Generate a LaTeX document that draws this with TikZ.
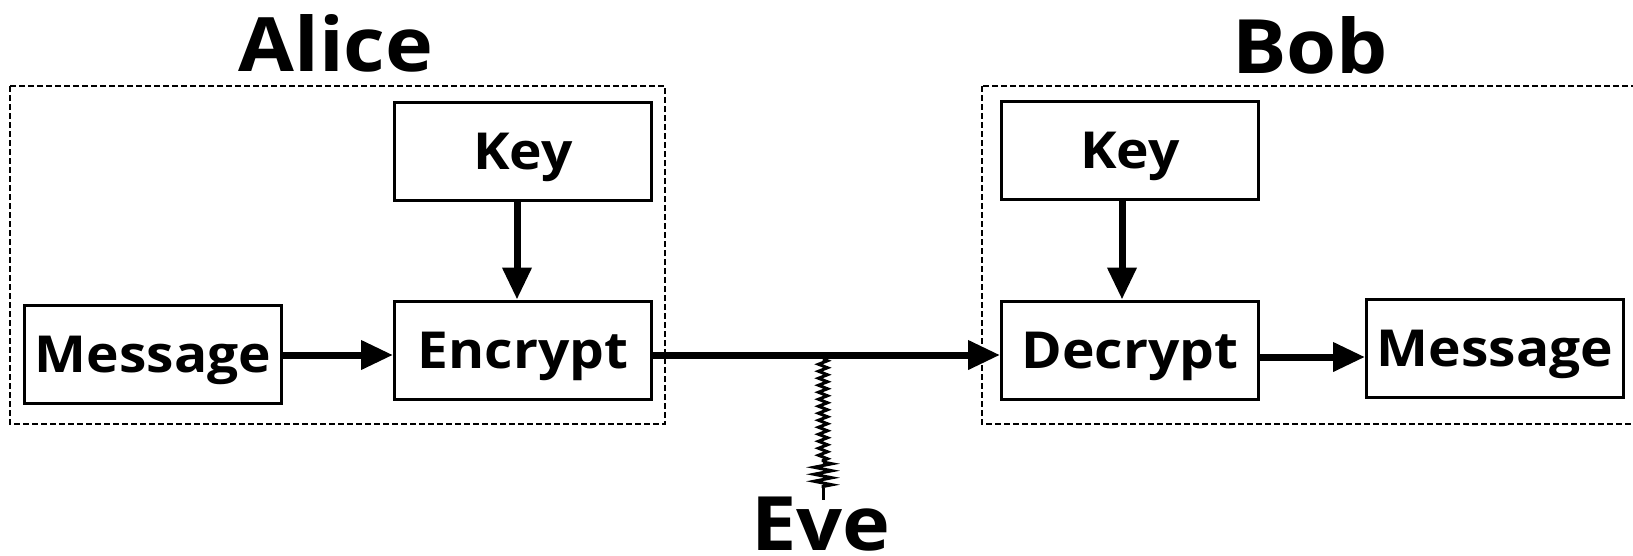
\documentclass[tikz,border=0pt]{standalone}
\usepackage{fontspec}
\setmainfont{Open Sans}
\newfontfamily\diagfont[FakeStretch=1.08]{Open Sans}
\usetikzlibrary{arrows.meta,decorations.pathmorphing}
\begin{document}
\begin{tikzpicture}[x=1pt,y=-1pt,
  box/.style={draw, line width=3pt, minimum width=257pt, minimum height=98pt, inner sep=0pt,
    text height=36pt, text depth=0pt,
    font=\diagfont\fontsize{51}{60}\selectfont\bfseries},
  group/.style={draw, line width=2pt, dash pattern=on 6pt off 3pt},
  title/.style={font=\diagfont\fontsize{75}{80}\selectfont\bfseries, anchor=base, inner sep=0pt},
  conn/.style={line width=7pt, -{Triangle[length=32pt,width=28pt]}},
  spy/.style={line width=3pt, decorate, decoration={zigzag, amplitude=4.5pt, segment length=7pt}},
  spyend/.style={line width=3pt, decorate, decoration={zigzag, amplitude=9pt, segment length=7pt}}
]
\path[use as bounding box] (0,0) rectangle (1633,555);
\clip (0,0) rectangle (1633,555);

% groups
\draw[group] (10,86) rectangle (665,424);
\draw[group] (982,86) rectangle (1660,424);

% titles
\node[title] (alice) at (336,71) {Alice};
\node[title] (bob) at (1310,73) {Bob};
\node[title] (eve) at (821,550) {Eve};

% boxes
\node[box] (keyA) at (523,151) {Key};
\node[box] (msgL) at (153,354) {Message};
\node[box] (enc) at (523,350) {Encrypt};
\node[box] (keyB) at (1130,150) {Key};
\node[box] (dec) at (1130,350) {Decrypt};
\node[box] (msgR) at (1495,348) {Message};

% connectors
\draw[conn] ([xshift=-6pt]keyA.south) -- ([xshift=-6pt]enc.north);
\draw[conn] ([xshift=-8pt]keyB.south) -- ([xshift=-8pt]dec.north);
\draw[conn] ([yshift=-1pt]msgL.east) -- ([yshift=-1pt]msgL.east -| enc.west);
\draw[conn] ([yshift=-5pt]enc.east) -- ([yshift=-5pt]enc.east -| dec.west);
\draw[conn] ([yshift=-7pt]dec.east) -- ([yshift=-7pt]dec.east -| msgR.west);

% eavesdropper
\coordinate (tap) at (823,359);
\coordinate (wide) at (823,462);
\coordinate (wideend) at (823,488);
\coordinate (tapend) at (823,500);
\draw[spy] (tap) -- (wide);
\draw[spyend] (wide) -- (wideend);
\draw[line width=3pt] (wideend) -- (tapend);
\end{tikzpicture}
\end{document}
